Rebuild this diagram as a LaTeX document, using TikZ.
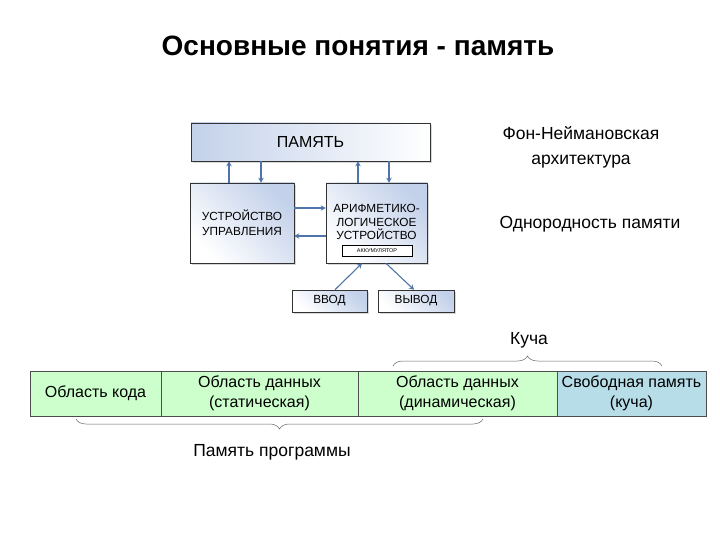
\documentclass[tikz,border=0pt]{standalone}
\usepackage{fontspec}
\setmainfont{Liberation Sans}
\usetikzlibrary{shadows,decorations.pathreplacing,arrows.meta}
\definecolor{arrowblue}{HTML}{4F74A8}
\definecolor{cellgreen}{HTML}{CCFFCC}
\definecolor{cellblue}{HTML}{B7DDE8}
\definecolor{boxblue}{HTML}{C3D1EA}

\begin{document}
\begin{tikzpicture}[x=1pt,y=-1pt,
  unit/.style={draw=black!80, line width=0.6pt, align=center, inner sep=0pt,
    left color=boxblue, right color=white, shading angle=-45,
    drop shadow={shadow xshift=2pt, shadow yshift=-2pt, opacity=0.3}},
  flow/.style={draw=arrowblue, line width=1.1pt, -{Stealth[length=5pt,width=5.5pt]}},
  cell/.style={draw=black!70, line width=0.6pt, minimum height=45pt, align=center,
    inner sep=0pt, font=\fontsize{16}{20}\selectfont},
  brace/.style={draw=black!60, line width=0.5pt, decorate,
    decoration={brace, amplitude=10pt}}]
  \fill[white] (0,0) rectangle (720,540);
  \node[font=\fontsize{28}{32}\selectfont\bfseries] (title) at (358,46) {Основные понятия - память};

  % von Neumann scheme
  \node[unit, shading angle=90, minimum width=239pt, minimum height=38pt,
    font=\fontsize{16}{18}\selectfont] (mem) at (310.5,142) {ПАМЯТЬ};
  \node[unit, minimum width=104pt, minimum height=80pt, font=\fontsize{11.8}{15}\selectfont] (cu) at (242,223)
    {УСТРОЙСТВО\\УПРАВЛЕНИЯ};
  \node[unit, minimum width=101pt, minimum height=80pt] (alu) at (376.5,223) {};
  \node[font=\fontsize{11.8}{13.5}\selectfont, align=center] (alutext) at (376.5,222) {АРИФМЕТИКО-\\ЛОГИЧЕСКОЕ\\УСТРОЙСТВО};
  \node[draw=black, fill=white, line width=0.6pt, minimum width=70pt, minimum height=11pt, inner sep=0pt,
    font=\fontsize{5.5}{6}\selectfont] (acc) at (377,251) {АККУМУЛЯТОР};
  \node[unit, minimum width=75pt, minimum height=22pt, font=\fontsize{11.8}{14}\selectfont] (inp) at (329.5,301) {ВВОД};
  \node[unit, minimum width=76pt, minimum height=22pt, font=\fontsize{11.8}{14}\selectfont] (outp) at (416,301) {ВЫВОД};

  \draw[flow] ([xshift=-13pt]cu.north) -- ([xshift=-13pt]cu.north |- mem.south);
  \draw[flow] ([xshift=19pt]cu.north |- mem.south) -- ([xshift=19pt]cu.north);
  \draw[flow] ([xshift=-18.5pt]alu.north) -- ([xshift=-18.5pt]alu.north |- mem.south);
  \draw[flow] ([xshift=12.5pt]alu.north |- mem.south) -- ([xshift=12.5pt]alu.north);
  \draw[flow] ([yshift=15pt]cu.east) -- ([yshift=15pt]alu.west);
  \draw[flow] ([yshift=-13pt]alu.west) -- ([yshift=-13pt]cu.east);
  \draw[flow] ([xshift=5.5pt]inp.north) -- ([xshift=-14.5pt]alu.south);
  \draw[flow] ([xshift=9.5pt]alu.south) -- ([xshift=-2pt]outp.north);

  \node[font=\fontsize{17.5}{25}\selectfont, align=center] (arch) at (581,147) {Фон-Неймановская\\архитектура};
  \node[font=\fontsize{17.5}{20}\selectfont] (uniform) at (590,224) {Однородность памяти};

  % memory layout
  \node[cell, fill=cellgreen, minimum width=131pt] (code) at (95.5,393.5) {Область кода};
  \node[cell, fill=cellgreen, minimum width=197pt] (stat) at (259.5,393.5) {Область данных\\(статическая)};
  \node[cell, fill=cellgreen, minimum width=199pt] (dyn) at (457.5,393.5) {Область данных\\(динамическая)};
  \node[cell, fill=cellblue, minimum width=149pt] (free) at (631.5,393.5) {Свободная память\\(куча)};

  \draw[brace] (393,366) -- (662,366);
  \node[font=\fontsize{17.5}{20}\selectfont] (heap) at (529,340) {Куча};
  \draw[brace] (483,419) -- (76,419);
  \node[font=\fontsize{17.5}{20}\selectfont] (prog) at (272,452) {Память программы};
\end{tikzpicture}
\end{document}
